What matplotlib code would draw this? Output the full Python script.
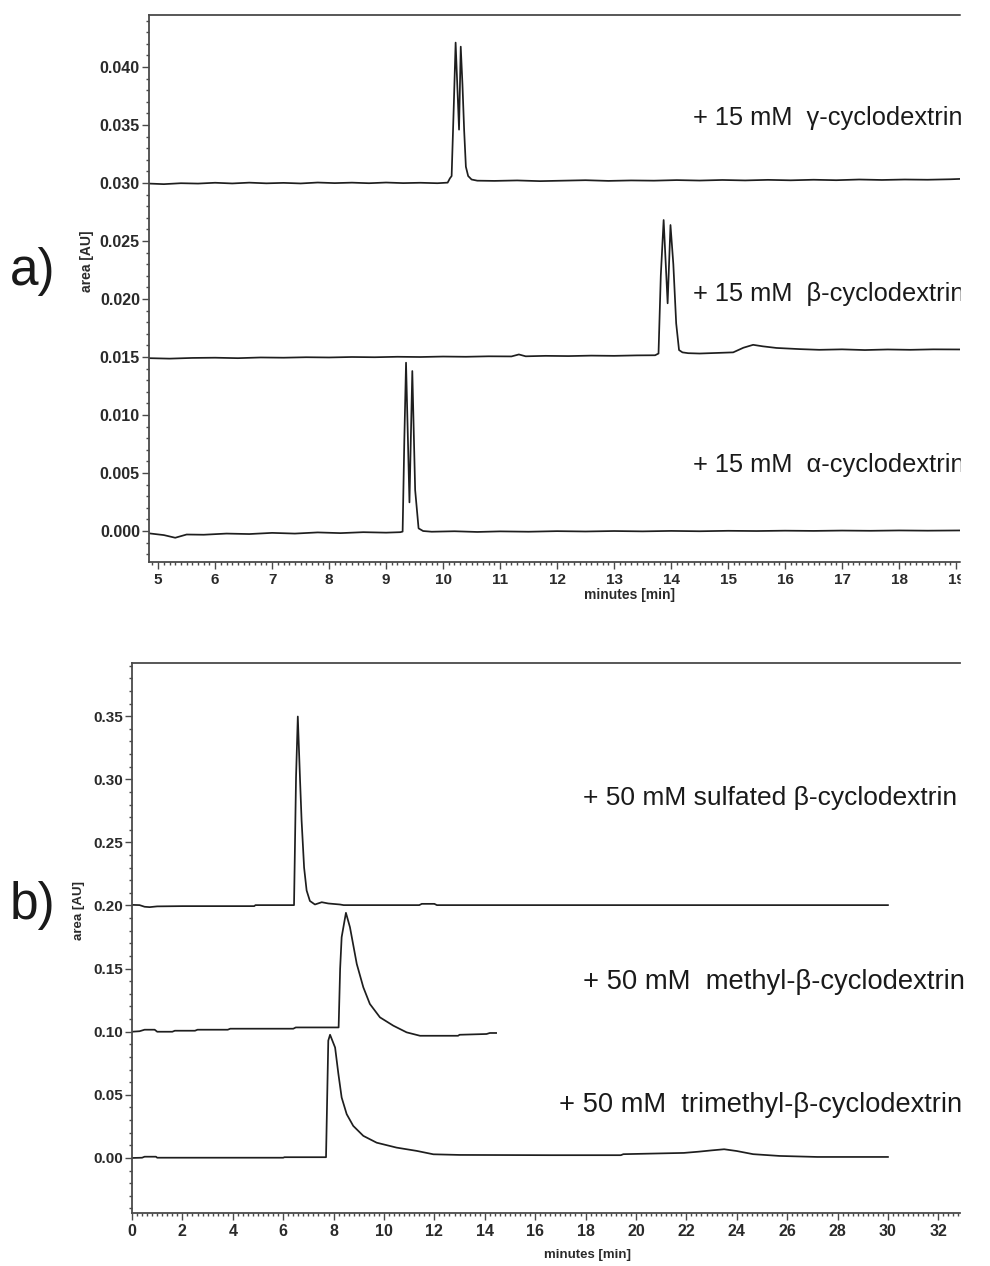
import matplotlib
matplotlib.use('Agg')
import matplotlib.pyplot as plt
from matplotlib.ticker import MultipleLocator, FormatStrFormatter
from matplotlib.patches import Rectangle

# ~~~~~~~~~~~~~~~~~~~~~~~~~~~~~~~~~~~~~~~~~~~~~~~~~~~~~~~~~~~~
# Panel a) 15 mM native cyclodextrins
# ~~~~~~~~~~~~~~~~~~~~~~~~~~~~~~~~~~~~~~~~~~~~~~~~~~~~~~~~~~~~
gamma_t = [4.84, 5.1, 5.4, 5.7, 6.0, 6.3, 6.6, 6.9, 7.2, 7.5, 7.8, 8.1, 8.4,
           8.7, 9.0, 9.3, 9.6, 9.9, 10.08, 10.12, 10.15, 10.19, 10.22, 10.28,
           10.31, 10.34, 10.37, 10.40, 10.44, 10.50, 10.6, 10.9, 11.3, 11.7,
           12.1, 12.5, 12.9, 13.3, 13.7, 14.1, 14.5, 14.9, 15.3, 15.7, 16.1,
           16.5, 16.9, 17.3, 17.7, 18.1, 18.5, 18.9, 19.07]
gamma_a = [0.02995, 0.02990, 0.02998, 0.02995, 0.03002, 0.02996, 0.03003,
           0.02997, 0.03001, 0.02996, 0.03004, 0.02999, 0.03003, 0.02998,
           0.03004, 0.02999, 0.03002, 0.02998, 0.03003, 0.03040, 0.03060,
           0.03700, 0.04210, 0.03460, 0.04175, 0.03850, 0.03450, 0.03140,
           0.03060, 0.03030, 0.03020, 0.03018, 0.03022, 0.03016, 0.03020,
           0.03024, 0.03018, 0.03022, 0.03020, 0.03025, 0.03021, 0.03026,
           0.03022, 0.03027, 0.03023, 0.03028, 0.03024, 0.03030, 0.03026,
           0.03030, 0.03028, 0.03032, 0.03035]

beta_t = [4.84, 5.2, 5.6, 6.0, 6.4, 6.8, 7.2, 7.6, 8.0, 8.4, 8.8, 9.2, 9.6,
          10.0, 10.4, 10.8, 11.2, 11.33, 11.45, 11.8, 12.2, 12.6, 13.0, 13.4,
          13.72, 13.78, 13.82, 13.87, 13.94, 13.99, 14.04, 14.09, 14.14, 14.2,
          14.3, 14.5, 14.8, 15.09, 15.27, 15.44, 15.61, 15.85, 16.26, 16.6,
          17.0, 17.4, 17.8, 18.2, 18.6, 19.07]
beta_a = [0.01490, 0.01486, 0.01492, 0.01494, 0.01490, 0.01496, 0.01494,
          0.01498, 0.01496, 0.01500, 0.01498, 0.01502, 0.01500, 0.01504,
          0.01502, 0.01506, 0.01505, 0.01522, 0.01506, 0.01510, 0.01508,
          0.01512, 0.01510, 0.01514, 0.01515, 0.01530, 0.02200, 0.02681,
          0.01963, 0.02638, 0.02300, 0.01790, 0.01560, 0.01540, 0.01533,
          0.01530, 0.01535, 0.01540, 0.01580, 0.01605, 0.01592, 0.01578,
          0.01568, 0.01562, 0.01566, 0.01560, 0.01565, 0.01562, 0.01566,
          0.01565]

alpha_t = [4.84, 5.1, 5.3, 5.5, 5.8, 6.2, 6.6, 7.0, 7.4, 7.8, 8.2, 8.6, 9.0,
           9.25, 9.29, 9.32, 9.35, 9.41, 9.46, 9.51, 9.57, 9.65, 9.8, 10.2,
           10.6, 11.0, 11.5, 12.0, 12.5, 13.0, 13.5, 14.0, 14.5, 15.0, 15.5,
           16.0, 16.5, 17.0, 17.5, 18.0, 18.5, 19.07]
alpha_a = [-0.00020, -0.00035, -0.00058, -0.00030, -0.00032, -0.00022,
           -0.00026, -0.00016, -0.00022, -0.00012, -0.00018, -0.00010,
           -0.00014, -0.00010, -0.00005, 0.00784, 0.01451, 0.00247, 0.01379,
           0.00353, 0.00023, 0.00000, -0.00006, -0.00002, -0.00008, -0.00003,
           -0.00006, -0.00001, -0.00004, 0.00000, -0.00003, 0.00001, -0.00002,
           0.00002, 0.00000, 0.00003, 0.00001, 0.00004, 0.00002, 0.00005,
           0.00003, 0.00005]

labels_a = ['+ 15 mM  \u03b3-cyclodextrin',
            '+ 15 mM  \u03b2-cyclodextrin',
            '+ 15 mM  \u03b1-cyclodextrin']

# ~~~~~~~~~~~~~~~~~~~~~~~~~~~~~~~~~~~~~~~~~~~~~~~~~~~~~~~~~~~~
# Panel b) 50 mM derivatised beta-cyclodextrins
# ~~~~~~~~~~~~~~~~~~~~~~~~~~~~~~~~~~~~~~~~~~~~~~~~~~~~~~~~~~~~
sulf_t = [0.0, 0.3, 0.5, 0.7, 1.0, 2.0, 3.0, 4.0, 4.85, 4.9, 6.0, 6.43, 6.51,
          6.58, 6.67, 6.73, 6.83, 6.93, 7.06, 7.26, 7.53, 7.79, 8.25, 8.4,
          11.4, 11.5, 12.0, 12.1, 16.2, 16.3, 30.0]
sulf_a = [0.2005, 0.2003, 0.1990, 0.1987, 0.1993, 0.1995, 0.1995, 0.1995,
          0.1995, 0.2003, 0.2003, 0.2003, 0.3016, 0.3497, 0.2990, 0.2675,
          0.2300, 0.2119, 0.2036, 0.2008, 0.2026, 0.2016, 0.2008, 0.2003,
          0.2003, 0.2013, 0.2013, 0.2003, 0.2003, 0.2003, 0.2003]

meth_t = [0.0, 0.3, 0.5, 0.9, 1.0, 1.6, 1.7, 2.5, 2.6, 3.8, 3.9, 6.4, 6.5,
          8.20, 8.26, 8.32, 8.49, 8.65, 8.92, 9.18, 9.44, 9.84, 10.37, 10.9,
          11.43, 12.94, 13.0, 14.07, 14.2, 14.45]
meth_a = [0.1000, 0.1004, 0.1016, 0.1016, 0.1000, 0.1000, 0.1008, 0.1008,
          0.1016, 0.1016, 0.1024, 0.1024, 0.1034, 0.1034, 0.1500, 0.1749,
          0.1942, 0.1828, 0.1537, 0.1352, 0.1220, 0.1114, 0.1048, 0.0995,
          0.0968, 0.0968, 0.0976, 0.0982, 0.0990, 0.0990]

tri_t = [0.0, 0.4, 0.5, 0.95, 1.0, 6.0, 6.05, 7.70, 7.79, 7.86, 8.06, 8.19,
         8.32, 8.52, 8.78, 9.18, 9.71, 10.5, 11.3, 11.96, 13.0, 16.6, 19.4,
         19.5, 21.9, 22.5, 23.0, 23.5, 24.0, 24.65, 25.7, 27.2, 30.0]
tri_a = [0.0000, 0.0002, 0.0010, 0.0010, 0.0002, 0.0002, 0.0006, 0.0006,
         0.0930, 0.0976, 0.0875, 0.0667, 0.0479, 0.0347, 0.0254, 0.0175,
         0.0121, 0.0082, 0.0056, 0.0029, 0.0024, 0.0022, 0.0022, 0.0030,
         0.0040, 0.0050, 0.0060, 0.0069, 0.0055, 0.0030, 0.0016, 0.0008,
         0.0008]

labels_b = ['+ 50 mM sulfated \u03b2-cyclodextrin',
            '+ 50 mM  methyl-\u03b2-cyclodextrin',
            '+ 50 mM  trimethyl-\u03b2-cyclodextrin']

# ~~~~~~~~~~~~~~~~~~~~~~~~~~~~~~~~~~~~~~~~~~~~~~~~~~~~~~~~~~~~
W, H = 990, 1266
plt.rcParams['font.family'] = ['Liberation Sans', 'DejaVu Sans']

fig = plt.figure(figsize=(W/100, H/100), dpi=100)

def fx(px):
    return px / W

def fy(py):
    return 1 - py / H

line_col = '#1e1e1e'
spine_col = '#4a4a4a'

def style_axes(ax, xlabel_xy, ylabel_xy, xt_size, yt_size, xl_size):
    for s in ['left', 'bottom', 'top']:
        ax.spines[s].set_color(spine_col)
        ax.spines[s].set_linewidth(1.3)
    ax.spines['right'].set_visible(False)
    ax.tick_params(which='both', direction='out', color=spine_col, width=1.0,
                   top=False, right=False)
    ax.tick_params(which='major', length=5)
    ax.tick_params(which='minor', length=2.5)
    ax.tick_params(axis='y', pad=1.5)
    ax.tick_params(axis='x', pad=3)
    for lab in ax.get_xticklabels():
        lab.set_fontweight('bold')
        lab.set_fontsize(xt_size)
        lab.set_color('#2a2a2a')
    for lab in ax.get_yticklabels():
        lab.set_fontweight('bold')
        lab.set_fontsize(yt_size)
        lab.set_color('#2a2a2a')
    ax.set_xlabel('minutes [min]', fontsize=xl_size, fontweight='bold',
                  color='#2a2a2a')
    ax.set_ylabel('area [AU]', fontsize=xl_size, fontweight='bold',
                  color='#2a2a2a')
    ax.xaxis.set_label_coords(*xlabel_xy)
    ax.xaxis.label.set_va('center')
    ax.yaxis.set_label_coords(*ylabel_xy)
    ax.yaxis.label.set_va('center')

# Panel a
ax1 = fig.add_axes([fx(149), fy(562), fx(960) - fx(149), fy(15) - fy(562)])
ax1.plot(gamma_t, gamma_a, color=line_col, lw=1.25)
ax1.plot(beta_t, beta_a, color=line_col, lw=1.25)
ax1.plot(alpha_t, alpha_a, color=line_col, lw=1.25)
ax1.set_xlim(4.84, 19.07)
ax1.set_ylim(-0.00267, 0.04448)
ax1.xaxis.set_major_locator(MultipleLocator(1))
ax1.xaxis.set_minor_locator(MultipleLocator(0.1))
ax1.yaxis.set_major_locator(MultipleLocator(0.005))
ax1.yaxis.set_minor_locator(MultipleLocator(0.001))
ax1.yaxis.set_major_formatter(FormatStrFormatter('%.3f'))
style_axes(ax1, ((629 - 149) / 811, -(595 - 562) / 547),
           ((87 - 149) / 811, (562 - 261) / 547), 11, 11.5, 10)

# Panel b
ax2 = fig.add_axes([fx(132), fy(1213), fx(960) - fx(132), fy(663) - fy(1213)])
ax2.plot(sulf_t, sulf_a, color=line_col, lw=1.25)
ax2.plot(meth_t, meth_a, color=line_col, lw=1.25)
ax2.plot(tri_t, tri_a, color=line_col, lw=1.25)
ax2.set_xlim(0, 32.86)
ax2.set_ylim(-0.0436, 0.3921)
ax2.xaxis.set_major_locator(MultipleLocator(2))
ax2.xaxis.set_minor_locator(MultipleLocator(0.2))
ax2.yaxis.set_minor_locator(MultipleLocator(0.01))
ax2.yaxis.set_major_formatter(FormatStrFormatter('%.2f'))
ax2.set_yticks([0.0, 0.05, 0.10, 0.15, 0.20, 0.25, 0.30, 0.35])
style_axes(ax2, ((588 - 132) / 828, -(1255 - 1213) / 550),
           ((79 - 132) / 828, (1213 - 911) / 550), 11.5, 11, 9.5)

# Trace labels
for lab, ypix in zip(labels_a, [118, 294, 465]):
    fig.text(fx(693), fy(ypix), lab, fontsize=18.3, va='center', ha='left',
             color='#1a1a1a')
for lab, xpix, ypix, fs in zip(labels_b, [583, 583, 559], [798, 982, 1105],
                               [19.0, 19.7, 19.6]):
    fig.text(fx(xpix), fy(ypix), lab, fontsize=fs, va='center', ha='left',
             color='#1a1a1a')

# Panel letters
fig.text(fx(10), fy(272), 'a)', fontsize=37, va='center', ha='left',
         color='#1a1a1a')
fig.text(fx(10), fy(905), 'b)', fontsize=37, va='center', ha='left',
         color='#1a1a1a')

# upper panel was cropped on the right in the original figure
fig.add_artist(Rectangle((fx(961), fy(625)), 1 - fx(961), 625 / H,
                         transform=fig.transFigure, color='white',
                         zorder=20))

fig.savefig('out.png', dpi=100, facecolor='white')
